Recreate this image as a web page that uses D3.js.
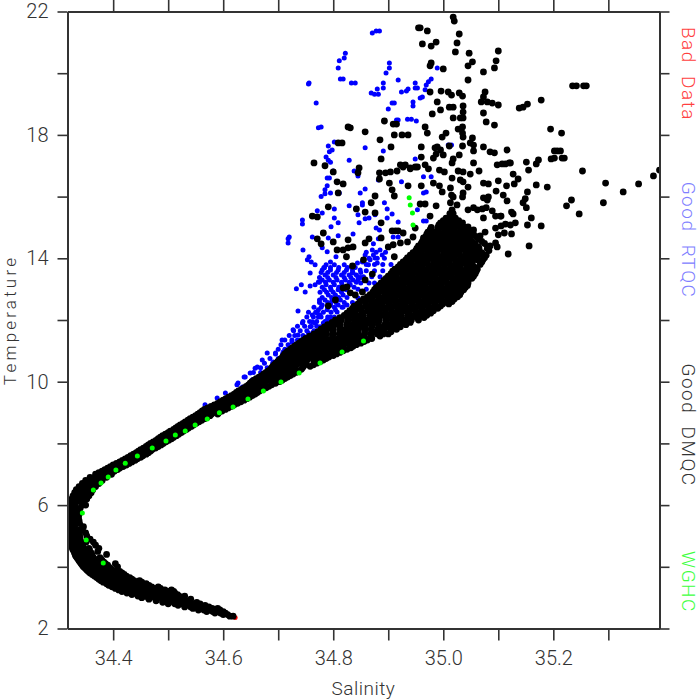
<!DOCTYPE html>
<html><head><meta charset="utf-8">
<script src="https://cdn.jsdelivr.net/npm/d3@7"></script>
<style>html,body{margin:0;background:#fff}svg{display:block}text{font-family:"Roboto","Lato",sans-serif;font-weight:300}</style>
</head><body><svg id="c" width="700" height="700"></svg>
<script>
const xLabelsValues=[34.4,34.6,34.8,35.0,35.2];
const xTickValues=[34.4,34.5,34.6,34.7,34.8,34.9,35.0,35.1,35.2,35.3];
const yLabelValues=[2,6,10,14,18,22];
const yTickValues=[2,4,6,8,10,12,14,16,18,20,22];
const legendNames=["Bad  Data","Good  RTQC","Good  DMQC","WGHC"];
const badData=[[34.622,2.35]];
const wghc=[[34.344,5.74],[34.351,4.87],[34.382,4.12],[34.364,6.49],[34.378,6.72],[34.391,6.91],[34.405,7.14],[34.422,7.36],[34.444,7.59],[34.471,7.85],[34.496,8.08],[34.513,8.27],[34.531,8.40],[34.549,8.60],[34.571,8.79],[34.593,8.99],[34.618,9.18],[34.645,9.44],[34.673,9.70],[34.705,9.99],[34.738,10.28],[34.776,10.61],[34.816,10.96],[34.855,11.32],[34.938,15.96],[34.940,15.73],[34.944,15.47],[34.945,15.08]];
const rtqcScatter=[[34.871,21.30],[34.878,21.37],[34.884,21.37],[34.822,20.65],[34.820,20.49],[34.811,20.40],[34.809,20.17],[34.902,20.33],[34.902,20.17],[34.896,20.01],[34.755,19.65],[34.756,19.68],[34.813,19.81],[34.818,19.81],[34.833,19.68],[34.840,19.68],[34.918,19.78],[34.891,19.68],[34.891,19.52],[34.880,19.49],[34.869,19.36],[34.875,19.32],[34.882,19.32],[34.924,19.39],[34.933,19.42],[34.936,19.49],[34.949,19.68],[34.949,19.52],[34.953,19.52],[34.967,19.46],[34.969,19.62],[34.973,19.72],[34.978,19.81],[34.989,20.17],[34.769,19.03],[34.907,19.03],[34.911,19.03],[34.945,19.07],[34.945,18.94],[34.958,19.20],[34.962,19.23],[34.900,18.84],[34.773,18.23],[34.778,18.26],[34.915,18.48],[34.918,18.48],[34.935,18.51],[34.942,18.51],[34.951,18.45],[34.802,17.77],[34.791,17.64],[34.798,17.51],[34.793,17.45],[34.858,17.58],[34.891,17.48],[34.787,17.28],[34.791,17.18],[34.795,17.11],[34.829,17.18],[34.838,16.83],[34.845,16.67],[34.800,16.83],[34.789,16.60],[34.793,16.60],[34.789,16.35],[34.785,16.22],[34.795,16.12],[34.778,16.0],[34.785,16.09],[34.811,16.12],[34.849,16.12],[34.858,16.25],[34.882,16.54],[34.924,16.48],[34.949,17.22],[34.964,16.64],[34.978,16.64],[34.982,16.44],[34.969,16.15],[34.964,16.12],[35.009,17.67],[35.015,17.67],[34.853,15.80],[34.853,15.73],[34.829,15.70],[34.893,15.80],[34.898,15.60],[34.907,15.44],[34.898,15.31],[34.771,15.54],[34.802,15.60],[34.780,15.47],[34.744,15.24],[34.744,15.11],[34.802,15.31],[34.809,15.15],[34.796,15.02],[34.847,15.15],[34.845,15.41],[34.858,15.28],[34.865,15.31],[34.876,15.41],[34.878,14.98],[34.884,14.92],[34.918,15.18],[34.964,15.21],[34.969,15.21],[34.720,14.69],[34.718,14.63],[34.718,14.50],[34.762,14.69],[34.791,14.66],[34.809,14.73],[34.836,14.79],[34.745,14.27],[34.780,14.34],[34.789,14.21],[34.873,14.47],[34.882,14.63],[34.909,14.69],[34.918,14.69],[34.953,15.57],[34.955,14.37],[34.733,13.01],[34.749,12.91],[34.742,13.14],[34.758,13.10],[34.767,13.14],[34.773,13.23],[34.758,13.52],[34.753,13.95],[34.760,13.88],[34.756,14.05],[34.767,13.79],[34.784,13.69],[34.795,13.88],[34.805,14.05],[34.775,12.65],[34.736,12.29],[34.771,12.23],[34.849,13.62],[34.864,13.79],[34.876,14.01],[34.889,14.11],[34.858,14.11],[34.871,14.27],[34.885,14.27],[34.845,13.30],[34.853,13.88],[34.873,14.11],[34.880,13.85],[34.867,13.95],[34.844,13.85],[34.836,13.52],[34.845,13.39],[34.640,10.15],[34.662,10.48],[34.680,10.93],[34.707,11.35],[34.727,11.68],[34.736,11.51],[34.744,11.90],[34.762,11.94],[34.755,11.58],[34.773,12.10],[34.764,11.61],[34.776,11.78],[34.795,12.55],[34.789,12.0],[34.709,10.96],[34.716,11.03],[34.691,10.64],[34.671,10.70],[34.695,10.93],[34.725,11.29],[34.735,11.35],[34.749,11.45],[34.627,9.96],[34.658,10.44],[34.758,11.78],[34.767,11.90],[34.782,11.90],[34.795,12.10],[34.807,12.26],[34.818,12.42],[34.836,12.39],[34.845,12.71],[34.567,9.25],[34.589,9.47],[34.604,9.63],[34.625,9.90],[34.635,9.83],[34.638,10.15],[34.649,10.28],[34.653,10.06]];
const rtqcCluster=[[13.79,[34.787,34.802,34.820]],[13.62,[34.780,34.795,34.809,34.824,34.835]],[13.46,[34.785,34.800,34.815,34.829,34.842]],[13.30,[34.780,34.793,34.807,34.822,34.836]],[13.14,[34.787,34.802,34.816,34.831]],[12.98,[34.784,34.796,34.809,34.824]],[12.81,[34.791,34.804,34.818]],[12.65,[34.785,34.798,34.813]],[12.49,[34.780,34.795,34.809,34.825]],[12.33,[34.773,34.789,34.804]],[12.16,[34.762,34.776]],
[13.7,[34.783,34.795,34.81,34.826,34.84]],[13.54,[34.778,34.79,34.806,34.82,34.835,34.85]],[13.38,[34.775,34.79,34.805,34.82,34.832,34.85]],[13.22,[34.775,34.786,34.8,34.815,34.829,34.842]],[13.06,[34.78,34.795,34.81,34.824,34.838]],[12.9,[34.776,34.788,34.8,34.815,34.83]],[12.73,[34.78,34.797,34.81,34.825]],[12.57,[34.775,34.79,34.805,34.82,34.835]],[12.41,[34.765,34.778,34.79,34.802,34.816]],[12.25,[34.755,34.768,34.782,34.796]],[12.1,[34.752,34.764,34.778,34.79,34.802]],[11.95,[34.745,34.757,34.77,34.785,34.795]],[11.8,[34.735,34.748,34.76,34.77,34.785]],[11.65,[34.728,34.74,34.752,34.765]],[11.5,[34.72,34.73,34.745,34.757]],[11.35,[34.712,34.725,34.74,34.752]],[11.2,[34.705,34.718,34.73]],[11.05,[34.70,34.712,34.724]],[10.9,[34.695,34.708]],[10.75,[34.685,34.70]],[10.6,[34.675,34.69]],[10.45,[34.668,34.68]],[10.3,[34.655,34.668]],
[14.2,[34.86,34.878,34.895]],[14.0,[34.865,34.88,34.893]],[13.8,[34.86,34.875,34.89,34.905]],[13.6,[34.86,34.875,34.89]],[13.4,[34.855,34.87,34.885]],[13.2,[34.85,34.865,34.875]],[13.0,[34.845,34.86]]];
const dmqcScatter=[[35.018,21.82],[35.020,21.69],[34.955,21.47],[34.958,21.47],[34.971,21.37],[35.029,21.27],[34.962,20.95],[34.978,20.88],[34.987,21.01],[35.025,20.98],[35.022,20.69],[35.047,20.65],[35.100,20.72],[34.978,20.33],[34.976,20.24],[35.000,20.14],[35.053,20.37],[35.045,20.24],[35.096,20.40],[35.093,20.17],[35.073,20.04],[35.045,19.78],[34.976,19.39],[34.996,19.42],[35.009,19.39],[35.015,19.29],[35.029,19.36],[35.035,19.26],[35.076,19.39],[35.073,19.23],[35.069,19.07],[35.080,19.07],[35.089,19.03],[35.100,18.97],[35.138,18.87],[35.145,18.90],[35.153,19.00],[34.989,19.07],[35.011,18.90],[35.018,18.90],[35.036,18.94],[35.036,18.74],[34.995,18.81],[34.980,18.68],[35.073,18.71],[35.018,18.55],[35.031,18.55],[35.036,18.55],[35.078,18.42],[35.093,18.32],[34.893,18.45],[34.909,18.35],[34.915,18.35],[34.967,18.26],[34.971,18.06],[35.027,18.19],[35.035,18.26],[35.035,18.06],[35.005,18.06],[34.998,17.93],[35.036,17.93],[35.053,17.90],[34.911,18.00],[34.925,18.00],[34.936,18.00],
[35.235,19.59],[35.242,19.59],[35.255,19.59],[35.260,19.59],[35.178,19.13],[35.195,18.19],[35.215,18.06],[35.202,17.48],[35.207,17.48],[35.213,17.48],[35.196,17.22],[35.202,17.25],[35.216,17.25],[35.220,17.25],[35.116,17.51],[35.151,17.12],[35.173,17.19],[35.169,17.06],[35.120,17.09],[35.113,17.06],[35.107,17.06],[35.127,16.73],[35.136,16.57],[35.155,16.86],[35.253,16.83],[35.393,16.86],[35.382,16.67],[35.355,16.41],[35.327,16.15],[35.295,16.44],[35.291,15.80],[35.233,15.89],[35.224,15.70],[35.247,15.44],[35.169,16.38],[35.189,16.31],[35.129,16.41],[35.115,16.35],[35.153,16.15],[35.149,15.93],[35.145,15.80],[35.151,15.64],[35.160,15.31],[35.178,15.05],[35.153,15.08],[35.131,15.15],[35.124,15.50],[35.127,15.44],[35.116,15.86],[35.109,16.05],[35.122,15.08],[35.113,15.11],[35.105,15.05],[35.124,14.79],[35.111,14.82],[35.104,15.37],[35.156,14.40],[35.118,14.14],
[34.960,17.61],[34.989,17.61],[34.987,17.38],[34.982,17.25],[35.000,17.35],[34.995,17.51],[35.029,17.35],[35.018,17.22],[35.016,17.09],[35.011,17.64],[35.035,17.64],[35.049,17.74],[35.055,17.67],[35.055,17.48],[35.073,17.61],[35.085,17.45],[35.093,17.42],[35.055,17.09],[35.065,16.83],[35.098,17.03],[35.122,17.09],[35.100,16.51],[35.073,16.44],[35.082,16.41],[35.096,16.18],[34.922,17.03],[34.931,17.03],[34.940,16.90],[34.953,16.96],[34.967,17.03],[34.973,16.90],[34.993,16.86],[35.002,16.80],[35.027,16.83],[35.036,16.80],[35.049,16.73],[35.031,16.54],[35.036,16.48],[35.045,16.31],[35.016,16.60],[34.982,16.44],[34.993,16.35],[34.998,16.15],[34.960,16.35],[34.936,16.35],[35.013,16.28],[35.015,16.05],[35.018,15.99],[35.036,16.12],[35.035,15.99],[35.073,15.96],[35.082,15.99],[35.080,15.89],[35.045,15.57],[35.055,15.64],[35.062,15.57],[35.071,15.60],[35.078,15.64],[35.089,15.54],[35.095,15.37],[35.105,15.37],[35.073,15.31],[34.958,15.76],[34.967,15.76],[34.987,15.70],[35.013,15.80],[35.025,15.73],[34.976,15.37],[35.016,15.57],[35.045,15.02],[35.055,14.92],[35.095,14.98],[35.100,14.76],[35.076,14.85],[35.067,14.73],[35.064,14.37],[35.095,14.50],[35.098,14.37],[35.071,14.11],[34.949,14.98],[34.964,14.66],[34.945,14.69],
[34.827,18.26],[34.831,18.23],[34.858,18.10],[34.885,17.84],[34.905,17.61],[34.809,17.74],[34.816,17.74],[34.765,17.09],[34.785,17.00],[34.800,16.80],[34.847,16.93],[34.845,16.77],[34.887,17.22],[34.960,17.28],[34.985,17.58],[34.895,16.77],[34.904,16.80],[34.916,16.83],[34.927,16.96],[34.940,16.93],[34.949,16.96],[34.884,16.77],[34.884,16.57],[34.902,16.44],[34.907,16.22],[34.911,16.02],[34.807,16.48],[34.818,16.41],[34.809,16.12],[34.876,16.02],[34.869,15.80],[34.791,15.67],[34.842,15.60],[34.858,15.50],[34.876,15.47],[34.762,15.37],[34.771,15.34],[34.887,15.15],[34.913,14.89],[34.907,14.89],[34.918,14.89],[34.782,14.82],[34.771,14.63],[34.778,14.47],[34.800,14.53],[34.827,14.60],[34.865,14.63],[34.858,14.50],[34.887,14.66],[34.927,14.82],[34.807,14.27],[34.818,14.27],[34.827,14.34],[34.836,14.37],[34.824,14.05],[34.855,13.95],[34.900,14.37],[34.909,14.44],[34.922,14.50],[34.935,14.53],[34.911,14.05],[34.835,13.75],[34.858,13.30],[34.871,13.49],[34.825,13.07],[34.818,13.04],[34.840,12.81],[34.804,12.65],[34.791,12.46],[34.831,12.88],[34.853,12.91]];
const dmqcLowerArm=[[2.4,[34.612,34.618]],[2.45,[34.600,34.608]],[2.5,[34.585,34.595,34.604]],[2.6,[34.555,34.565,34.575,34.585,34.594]],[2.7,[34.530,34.541,34.552,34.563,34.574]],[2.8,[34.500,34.512,34.524,34.536,34.548,34.558]],[2.9,[34.478,34.490,34.502,34.514,34.526,34.538]],[3.0,[34.452,34.464,34.476,34.488,34.500,34.512,34.522]],[3.1,[34.434,34.446,34.458,34.470,34.482,34.494,34.506,34.517]],[3.2,[34.416,34.428,34.440,34.452,34.464,34.476,34.488,34.500,34.510]],[3.3,[34.404,34.416,34.428,34.440,34.452,34.464,34.476,34.486]],[3.4,[34.392,34.404,34.416,34.428,34.440,34.452,34.465]],[3.5,[34.382,34.394,34.406,34.418,34.430,34.442,34.452]],[3.6,[34.374,34.386,34.398,34.410,34.422,34.434]],[3.7,[34.366,34.378,34.390,34.402,34.414,34.424]],[3.8,[34.358,34.370,34.382,34.394,34.406,34.416]],[3.9,[34.352,34.363,34.374,34.386,34.398]],[4.0,[34.346,34.357,34.368,34.380,34.392,34.408]],[4.1,[34.342,34.352,34.363,34.374,34.386,34.404]],[4.2,[34.338,34.348,34.358,34.369,34.380]],[4.3,[34.334,34.344,34.354,34.364,34.376]],[4.4,[34.331,34.341,34.351,34.361,34.388]],[4.5,[34.329,34.339,34.349,34.372]],[4.6,[34.326,34.336,34.346,34.356,34.374]],[4.7,[34.324,34.334,34.344,34.368]],[4.8,[34.321,34.331,34.341,34.351,34.364]],[4.9,[34.320,34.330,34.340,34.358]],[5.0,[34.319,34.329,34.339,34.352]],[5.2,[34.319,34.329,34.339,34.344]],[5.3,[34.320,34.330,34.346]],[5.4,[34.319,34.329,34.339]],[5.5,[34.320,34.330,34.338]],[5.6,[34.319,34.329,34.337]],[5.7,[34.319,34.329,34.338]],[5.8,[34.319,34.329,34.338]],[5.9,[34.320,34.330,34.340]],[6.0,[34.321,34.331,34.344,34.350]],[6.1,[34.323,34.333,34.343]],[6.2,[34.325,34.335,34.345,34.352]],[6.3,[34.327,34.337,34.347,34.356]],[6.4,[34.330,34.340,34.350,34.360]],[6.5,[34.333,34.343,34.353,34.363]],[6.6,[34.338,34.348,34.358,34.368]],[6.7,[34.344,34.354,34.364,34.374]],[6.8,[34.350,34.360,34.370,34.380]],[6.9,[34.358,34.368,34.378,34.388]],[7.0,[34.368,34.378,34.388,34.397]],
[2.55,[34.57,34.581,34.592,34.6]],[2.65,[34.545,34.556,34.568,34.58,34.59]],[2.75,[34.518,34.53,34.542,34.555,34.567]],[2.85,[34.49,34.502,34.515,34.527,34.54,34.552]],[2.95,[34.465,34.478,34.49,34.503,34.516,34.529,34.541]],[3.05,[34.445,34.458,34.47,34.482,34.495,34.507,34.52,34.53]],[3.15,[34.425,34.438,34.45,34.462,34.475,34.487,34.5,34.512]],[3.25,[34.41,34.422,34.434,34.446,34.458,34.47,34.482,34.494,34.506]],[3.35,[34.398,34.41,34.422,34.434,34.446,34.458,34.47,34.482]],[3.45,[34.388,34.4,34.412,34.424,34.436,34.448,34.46]],[3.55,[34.378,34.39,34.402,34.414,34.426,34.438,34.448]],[3.65,[34.37,34.382,34.394,34.406,34.418,34.43]],[3.75,[34.362,34.374,34.386,34.398,34.41,34.42]],[3.85,[34.355,34.366,34.378,34.39,34.402,34.412]],[3.95,[34.349,34.36,34.371,34.383,34.395]],[4.05,[34.344,34.355,34.366,34.377,34.39]],[4.15,[34.34,34.35,34.36,34.372,34.383]],[4.25,[34.336,34.346,34.356,34.366,34.378]],[4.35,[34.332,34.342,34.352,34.362]],[4.45,[34.33,34.34,34.35,34.36]],[4.55,[34.327,34.337,34.347,34.357]],[4.65,[34.325,34.335,34.345]],[4.75,[34.322,34.332,34.342]],[4.85,[34.32,34.33,34.34]],[4.95,[34.319,34.329,34.339]],[5.1,[34.319,34.329,34.339,34.35]]];
const dmqcUpperArm=[[7.1,[34.380,34.390,34.402]],[7.2,[34.390,34.400,34.412]],[7.3,[34.400,34.412,34.424]],[7.4,[34.412,34.423,34.434]],[7.5,[34.422,34.432,34.444]],[7.6,[34.432,34.443,34.454]],[7.7,[34.442,34.452,34.464]],[7.8,[34.450,34.461,34.471]],[7.9,[34.460,34.470,34.482]],[8.0,[34.468,34.480,34.491]],[8.1,[34.478,34.489,34.501]],[8.2,[34.486,34.498,34.510]],[8.3,[34.495,34.507,34.519]],[8.4,[34.504,34.516,34.528]],[8.5,[34.514,34.526,34.537]],[8.6,[34.522,34.534,34.546]],[8.7,[34.531,34.543,34.556]],[8.8,[34.540,34.552,34.566]],[8.9,[34.550,34.562,34.576]],[9.0,[34.558,34.570,34.582,34.592]],[9.1,[34.566,34.578,34.590,34.604]],[9.2,[34.578,34.590,34.602,34.614]],[9.3,[34.590,34.601,34.613,34.626]],[9.4,[34.600,34.612,34.624,34.638]],[9.5,[34.610,34.622,34.634,34.648]],[9.6,[34.620,34.632,34.644,34.658]],[9.7,[34.628,34.640,34.652,34.666]],[9.8,[34.638,34.650,34.662,34.678]],[9.9,[34.646,34.658,34.670,34.688]],[10.0,[34.652,34.664,34.676,34.690,34.702]],[10.1,[34.660,34.672,34.684,34.698,34.712]],[10.2,[34.670,34.682,34.694,34.708,34.722]],[10.3,[34.678,34.690,34.702,34.716,34.732]],[10.4,[34.686,34.698,34.710,34.724,34.742]],[10.5,[34.690,34.702,34.716,34.730,34.746,34.758]],[10.6,[34.696,34.708,34.722,34.736,34.750,34.770]],[10.7,[34.702,34.715,34.728,34.740,34.752,34.764,34.782]],[10.8,[34.708,34.720,34.732,34.744,34.756,34.768,34.780,34.792]],[10.9,[34.712,34.725,34.737,34.749,34.761,34.773,34.785,34.806]],[11.0,[34.718,34.730,34.742,34.754,34.766,34.778,34.790,34.802,34.818]],[11.1,[34.726,34.738,34.750,34.762,34.774,34.786,34.798,34.810,34.832]],[11.2,[34.734,34.746,34.758,34.770,34.782,34.794,34.806,34.818,34.830,34.842]],[11.3,[34.742,34.754,34.766,34.778,34.790,34.802,34.814,34.826,34.838,34.856]],
[7.05,[34.374,34.385,34.396]],[7.15,[34.385,34.396,34.408]],[7.25,[34.395,34.406,34.418]],[7.35,[34.406,34.417,34.429]],[7.45,[34.417,34.428,34.44]],[7.55,[34.427,34.438,34.45]],[7.65,[34.437,34.448,34.46]],[7.75,[34.446,34.456,34.468]],[7.85,[34.455,34.466,34.477]],[7.95,[34.464,34.475,34.487]],[8.05,[34.473,34.485,34.496]],[8.15,[34.482,34.494,34.506]],[8.25,[34.49,34.502,34.515]],[8.35,[34.5,34.512,34.524]],[8.45,[34.51,34.521,34.533]],[8.55,[34.518,34.53,34.542]],[8.65,[34.527,34.539,34.551]],[8.75,[34.536,34.548,34.561]],[8.85,[34.545,34.557,34.571]],[8.95,[34.554,34.566,34.579,34.59]],[9.05,[34.562,34.574,34.586,34.598]],[9.15,[34.572,34.584,34.596,34.609]],[9.25,[34.584,34.596,34.608,34.62]],[9.35,[34.595,34.607,34.619,34.632]],[9.45,[34.605,34.617,34.629,34.643]],[9.55,[34.615,34.627,34.639,34.653]],[9.65,[34.624,34.636,34.648,34.662]],[9.75,[34.633,34.645,34.657,34.672]],[9.85,[34.642,34.654,34.666,34.683]],[9.95,[34.649,34.661,34.673,34.695]],[10.05,[34.656,34.668,34.68,34.694,34.707]],[10.15,[34.665,34.677,34.689,34.703,34.717]],[10.25,[34.674,34.686,34.698,34.712,34.727]],[10.35,[34.682,34.694,34.706,34.72,34.737]],[10.45,[34.688,34.70,34.713,34.727,34.744]],[10.55,[34.693,34.705,34.719,34.733,34.748,34.764]],[10.65,[34.699,34.712,34.725,34.738,34.751,34.776]],[10.75,[34.705,34.717,34.73,34.742,34.754,34.773,34.787]],[10.85,[34.71,34.722,34.735,34.747,34.759,34.771,34.79,34.8]],[10.95,[34.715,34.727,34.74,34.752,34.764,34.776,34.795,34.812]],[11.05,[34.722,34.734,34.746,34.758,34.77,34.782,34.794,34.806,34.825]],[11.15,[34.73,34.742,34.754,34.766,34.778,34.79,34.802,34.814,34.836]],[11.25,[34.738,34.75,34.762,34.774,34.786,34.798,34.81,34.822,34.834,34.85]],[11.35,[34.746,34.758,34.77,34.782,34.794,34.806,34.818,34.83,34.842,34.862]]];
const dmqcBlob=[[11.4,[34.750,34.762,34.774,34.786,34.798,34.810,34.822,34.834,34.846,34.858,34.870]],
[11.55,[34.765,34.776,34.788,34.799,34.811,34.822,34.834,34.845,34.857,34.868,34.880,34.891,34.900]],
[11.7,[34.778,34.789,34.800,34.812,34.823,34.835,34.846,34.858,34.869,34.881,34.892,34.904,34.915]],
[11.85,[34.790,34.802,34.813,34.825,34.836,34.848,34.859,34.871,34.882,34.894,34.905,34.917,34.932]],
[12.0,[34.804,34.815,34.827,34.838,34.850,34.861,34.873,34.884,34.896,34.907,34.919,34.930,34.942,34.955]],
[12.15,[34.820,34.831,34.843,34.854,34.866,34.877,34.889,34.900,34.912,34.923,34.935,34.946,34.958,34.970]],
[12.3,[34.830,34.840,34.851,34.862,34.873,34.884,34.895,34.906,34.917,34.928,34.939,34.950,34.961,34.972,34.982]],
[12.45,[34.838,34.848,34.859,34.869,34.880,34.890,34.901,34.911,34.922,34.932,34.943,34.953,34.964,34.974,34.985,34.995]],
[12.6,[34.849,34.859,34.870,34.880,34.891,34.901,34.912,34.922,34.933,34.943,34.954,34.964,34.975,34.985,34.996,35.006,35.016]],
[12.75,[34.862,34.872,34.883,34.893,34.904,34.914,34.925,34.935,34.946,34.956,34.967,34.977,34.988,34.998,35.009,35.019,35.026]],
[12.9,[34.872,34.882,34.892,34.902,34.912,34.922,34.932,34.942,34.952,34.962,34.972,34.982,34.992,35.002,35.012,35.022,35.032]],
[13.05,[34.878,34.888,34.898,34.908,34.918,34.928,34.938,34.948,34.958,34.968,34.978,34.988,34.998,35.008,35.018,35.028,35.040]],
[13.2,[34.887,34.897,34.907,34.917,34.927,34.937,34.947,34.957,34.967,34.977,34.987,34.997,35.007,35.017,35.027,35.037,35.045]],
[13.35,[34.896,34.906,34.916,34.926,34.936,34.946,34.956,34.966,34.976,34.986,34.996,35.006,35.016,35.026,35.036,35.046,35.052]],
[13.5,[34.905,34.915,34.925,34.935,34.945,34.955,34.965,34.975,34.985,34.995,35.005,35.015,35.025,35.035,35.045,35.058]],
[13.65,[34.912,34.922,34.932,34.942,34.952,34.962,34.972,34.982,34.992,35.002,35.012,35.022,35.032,35.042,35.052,35.062]],
[13.8,[34.922,34.932,34.942,34.952,34.962,34.972,34.982,34.992,35.002,35.012,35.022,35.032,35.042,35.052,35.067]],
[13.95,[34.932,34.942,34.952,34.962,34.972,34.982,34.992,35.002,35.012,35.022,35.032,35.042,35.052,35.062,35.072]],
[14.1,[34.940,34.950,34.960,34.970,34.980,34.990,35.000,35.010,35.020,35.030,35.040,35.050,35.060,35.078]],
[14.25,[34.950,34.960,34.970,34.980,34.990,35.000,35.010,35.020,35.030,35.040,35.050,35.060,35.083]],
[14.4,[34.955,34.965,34.975,34.985,34.995,35.005,35.015,35.025,35.035,35.045,35.055,35.085]],
[14.55,[34.962,34.972,34.982,34.992,35.002,35.012,35.022,35.032,35.042,35.052,35.070]],
[14.7,[34.968,34.978,34.988,34.998,35.008,35.018,35.028,35.038,35.048,35.060]],
[14.85,[34.972,34.982,34.992,35.002,35.012,35.022,35.032,35.042,35.052]],
[15.0,[34.978,34.990,35.000,35.010,35.020,35.030,35.040]],
[15.15,[34.995,35.005,35.015,35.025,35.035]],
[15.3,[35.005,35.013,35.022]],[15.45,[35.012,35.018]],
[11.48,[34.757,34.771,34.785,34.799,34.813,34.827,34.841,34.855,34.869,34.885]],
[11.62,[34.772,34.786,34.8,34.815,34.829,34.843,34.857,34.871,34.886,34.905]],
[11.78,[34.784,34.798,34.812,34.827,34.841,34.855,34.87,34.884,34.898,34.912,34.922]],
[11.92,[34.798,34.812,34.826,34.84,34.854,34.868,34.882,34.896,34.91,34.925,34.94]],
[12.08,[34.812,34.826,34.84,34.854,34.868,34.882,34.896,34.91,34.924,34.938,34.952,34.965]],
[12.22,[34.825,34.839,34.853,34.867,34.881,34.895,34.909,34.923,34.937,34.951,34.965,34.977]],
[12.38,[34.835,34.849,34.863,34.877,34.891,34.905,34.919,34.933,34.947,34.961,34.975,34.99]],
[12.52,[34.845,34.859,34.873,34.887,34.901,34.915,34.929,34.943,34.957,34.971,34.985,34.999,35.01]],
[12.68,[34.855,34.869,34.883,34.897,34.911,34.925,34.939,34.953,34.967,34.981,34.995,35.009,35.02]],
[12.82,[34.867,34.881,34.895,34.909,34.923,34.937,34.951,34.965,34.979,34.993,35.007,35.02,35.03]],
[12.98,[34.875,34.889,34.903,34.917,34.931,34.945,34.959,34.973,34.987,35.001,35.015,35.03,35.037]],
[13.12,[34.883,34.897,34.911,34.925,34.939,34.953,34.967,34.981,34.995,35.009,35.023,35.037,35.044]],
[13.28,[34.892,34.906,34.92,34.934,34.948,34.962,34.976,34.99,35.004,35.018,35.032,35.045]],
[13.42,[34.9,34.914,34.928,34.942,34.956,34.97,34.984,34.998,35.012,35.026,35.04,35.055]],
[13.58,[34.908,34.922,34.936,34.95,34.964,34.978,34.992,35.006,35.02,35.034,35.048,35.06]],
[13.72,[34.918,34.932,34.946,34.96,34.974,34.988,35.002,35.016,35.03,35.044,35.056]],
[13.88,[34.927,34.941,34.955,34.969,34.983,34.997,35.011,35.025,35.039,35.053,35.07]],
[14.02,[34.935,34.949,34.963,34.977,34.991,35.005,35.019,35.033,35.047,35.061,35.075]],
[14.18,[34.945,34.959,34.973,34.987,35.001,35.015,35.029,35.043,35.057,35.07]],
[14.32,[34.952,34.966,34.98,34.994,35.008,35.022,35.036,35.05,35.065,35.08]],
[14.48,[34.96,34.974,34.988,35.002,35.016,35.03,35.044,35.058,35.075]],
[14.62,[34.965,34.979,34.993,35.007,35.021,35.035,35.049,35.065]],
[14.78,[34.97,34.984,34.998,35.012,35.026,35.04,35.055]],
[14.92,[34.976,34.99,35.004,35.018,35.032,35.046]],
[15.08,[34.992,35.006,35.02,35.034]],
[15.22,[35.0,35.014,35.028]]];

const flat=rows=>rows.flatMap(([t,ss])=>ss.map(s=>[s,t]));
const svg=d3.select("#c");
const x=d3.scaleLinear().domain([34.317,35.393]).range([67.5,659.5]);
const y=d3.scaleLinear().domain([2,22]).range([628.5,11.5]);
const L=x.range()[0],R=x.range()[1],T=y.range()[1],B=y.range()[0];
svg.append("clipPath").attr("id","plot").append("rect").attr("x",L).attr("y",T).attr("width",R-L).attr("height",B-T);
const plot=svg.append("g").attr("clip-path","url(#plot)");
function dots(data,color,r){plot.append("g").selectAll("circle").data(data).join("circle").attr("cx",d=>x(d[0])).attr("cy",d=>y(d[1])).attr("r",r).attr("fill",color);}
dots(badData,"#ff0000",2.4);
dots(rtqcScatter.concat(flat(rtqcCluster)),"#0000ff",2.5);
dots(dmqcScatter.concat(flat(dmqcLowerArm),flat(dmqcUpperArm),flat(dmqcBlob)),"#000000",3.4);
dots(wghc,"#00ff00",2.5);

const ink="#333";
function style(g){g.selectAll("line,path").attr("stroke",ink).attr("stroke-width",1.6);g.select(".domain").attr("stroke-width",2);}
function labelStyle(g){g.selectAll("text").attr("fill","#333").attr("font-size",20);}
const fmtX=d=>xLabelsValues.some(v=>Math.abs(v-d)<1e-6)?d.toFixed(1):"";
const fmtY=d=>yLabelValues.includes(d)?String(d):"";
svg.append("g").attr("transform",`translate(0,${B})`).call(d3.axisBottom(x).tickValues(xTickValues).tickFormat(fmtX).tickSize(12).tickSizeOuter(0).tickPadding(10)).call(style).call(labelStyle);
svg.append("g").attr("transform",`translate(0,${T})`).call(d3.axisTop(x).tickValues(xTickValues).tickFormat("").tickSize(12).tickSizeOuter(0)).call(style);
svg.append("g").attr("transform",`translate(${L},0)`).call(d3.axisLeft(y).tickValues(yTickValues).tickFormat(fmtY).tickSize(10).tickSizeOuter(0).tickPadding(9)).call(style).call(labelStyle);
svg.append("g").attr("transform",`translate(${R},0)`).call(d3.axisRight(y).tickValues(yTickValues).tickFormat("").tickSize(10).tickSizeOuter(0)).call(style);

svg.append("text").attr("x",363.5).attr("y",695).attr("text-anchor","middle").attr("fill","#333").attr("font-size",19).style("letter-spacing","0.5px").text("Salinity");
svg.append("text").attr("transform","translate(16,320) rotate(-90)").attr("text-anchor","middle").attr("fill","#333").attr("font-size",17).style("letter-spacing","3.2px").text("Temperature");
const legendColors=["#ff4040","#8080ff","#333","#40ff40"];
const legendCenters=[74,240,425,582];
svg.append("g").selectAll("text").data(legendNames).join("text")
 .attr("transform",(d,i)=>`translate(682,${legendCenters[i]}) rotate(90)`)
 .attr("text-anchor","middle").attr("font-size",19).attr("fill",(d,i)=>legendColors[i])
 .style("letter-spacing","1.5px").style("white-space","pre").text(d=>d);
</script></body></html>
